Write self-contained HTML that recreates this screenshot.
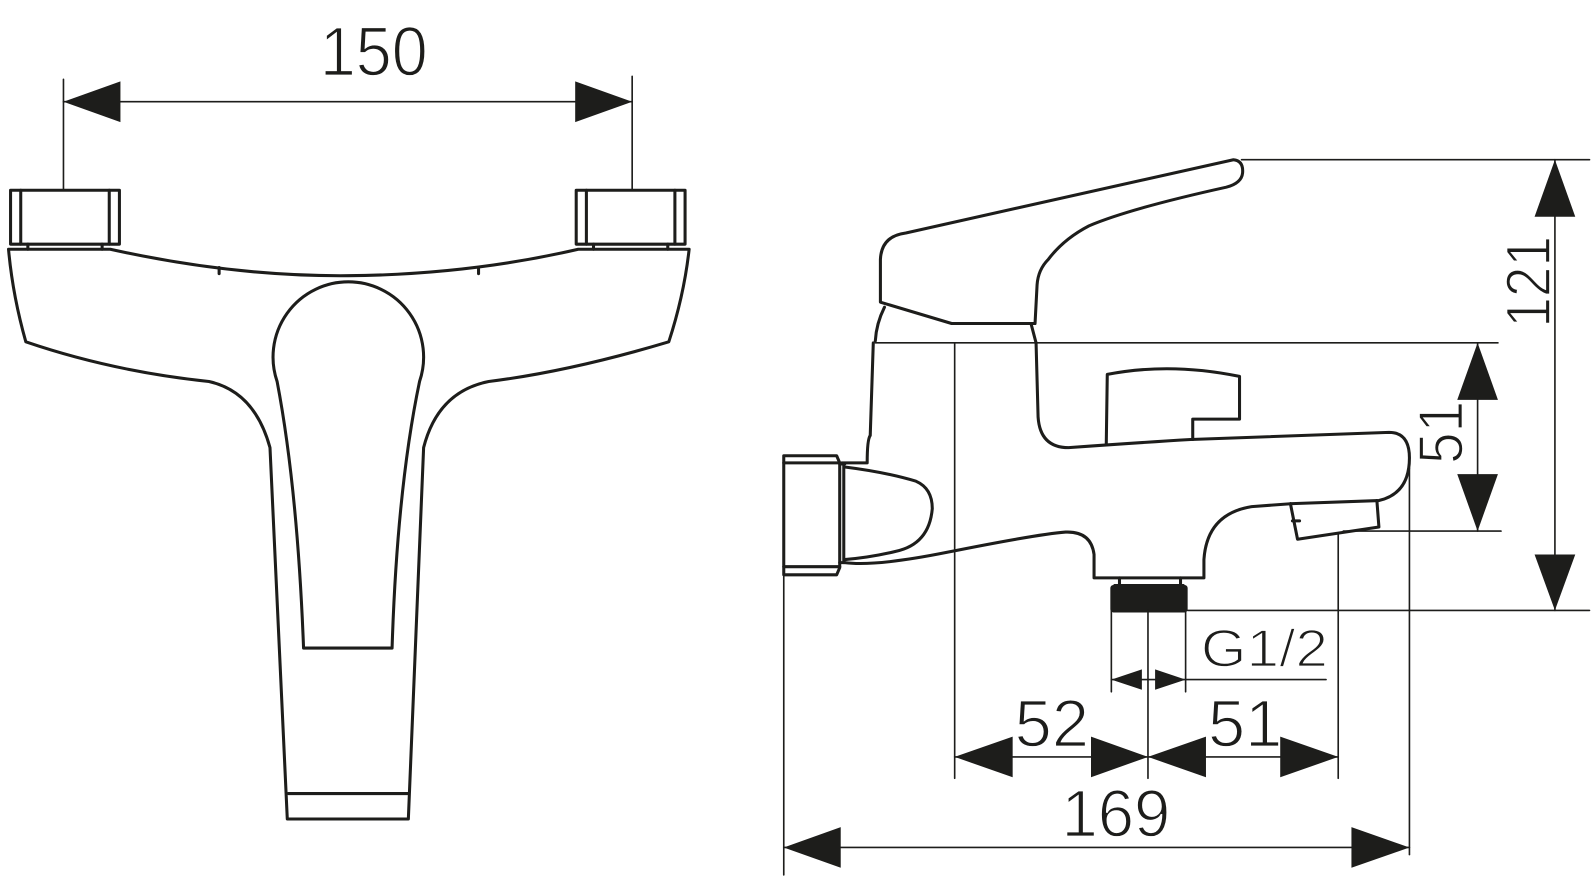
<!DOCTYPE html>
<html><head><meta charset="utf-8"><style>
html,body{margin:0;padding:0;background:#fff;width:1596px;height:879px;overflow:hidden}
svg{display:block}
text{font-family:"Liberation Sans",sans-serif;fill:#1d1d1b;stroke:#fff;stroke-width:1.6px}
</style></head><body>
<svg width="1596" height="879" viewBox="0 0 1568 864" xmlns="http://www.w3.org/2000/svg">
<g fill="none" stroke="#1d1d1b" stroke-linejoin="round" stroke-linecap="round">
<g stroke-width="1.6">
<line x1="62" y1="78" x2="62" y2="187"/>
<line x1="621" y1="75" x2="621" y2="187"/>
<line x1="62" y1="100" x2="621" y2="100"/>
</g>
<g fill="#1d1d1b" stroke="none">
<polygon points="62,100 118,80 118,120"/>
<polygon points="621,100 565,80 565,120"/>
</g>
<g stroke-width="3">
<rect x="10" y="187" width="107" height="53"/>
<line x1="20" y1="187" x2="20" y2="240"/><line x1="107" y1="187" x2="107" y2="240"/>
<rect x="566" y="187" width="107" height="53"/>
<line x1="576" y1="187" x2="576" y2="240"/><line x1="663" y1="187" x2="663" y2="240"/>
<line x1="27" y1="240" x2="27" y2="245"/><line x1="100" y1="240" x2="100" y2="245"/>
<line x1="583" y1="240" x2="583" y2="245"/><line x1="656" y1="240" x2="656" y2="245"/>
<path d="M8,245 L108,245 Q230,272 342,271 Q460,270 568,245 L677,245 Q672,290 657,336 Q560,365 480,375 Q430,385 416,440 L401,805 L282,805 L265,440 Q250,385 205,375 Q110,365 25,336 Q12,290 8,245 Z"/>
<line x1="215" y1="263" x2="215" y2="269"/><line x1="470" y1="263" x2="470" y2="269"/>
<line x1="283" y1="780" x2="401" y2="780"/>
<path d="M298,637 L385,637 Q390,480 412,375 A74,74 0 1 0 272,375 Q292,480 298,637 Z"/>

<path d="M865,297 L865,255 Q866,232 890,229 L1212,157 Q1222,158 1221,170 Q1220,180 1205,184 Q1110,205 1070,222 Q1045,235 1030,255 Q1020,265 1019,280 L1017,318 L935,318 Z"/>
<path d="M869,302 Q861,318 860,335"/>
<path d="M1013,318 L1018,337"/>
<path d="M858,337 L855,428 Q852,432 852,455 L827,455"/>
<path d="M1018,337 L1020,410 Q1022,440 1050,440 Q1120,435 1170,432 L1365,425 Q1385,425 1385,450 Q1385,485 1355,492 L1270,495 L1230,498 Q1186,505 1183,550 L1183,568 L1075,568 L1075,545 Q1072,522 1047,523 Q1020,525 930,543 Q860,557 830,553"/>
<path d="M1087,437 L1088,368 Q1150,356 1218,370 L1218,412 L1172,412 L1172,432"/>
<path d="M1268,495 L1275,530 L1355,518 L1353,492"/>
<path d="M1270,512 L1277,512"/>
<path d="M770,448 L822,448 L825,455 L825,558 L822,565 L770,565 Z"/>
<line x1="770" y1="455" x2="825" y2="455"/><line x1="770" y1="557" x2="825" y2="557"/>
<line x1="825" y1="456" x2="830" y2="456"/><line x1="825" y1="553" x2="830" y2="553"/>
<line x1="829" y1="456" x2="829" y2="553"/>
<path d="M830,459 Q870,464 900,473 Q916,480 916,500 Q913,535 880,542 Q855,548 830,550"/>
<path d="M1100,568 L1100,575 M1160,568 L1160,575"/>
</g>
<rect x="1091" y="575" width="76" height="27" rx="3" fill="#1d1d1b" stroke="none"/>
<line x1="1095" y1="575" x2="1163" y2="575" stroke="#1d1d1b" stroke-width="2"/>

<g stroke-width="1.6">
<line x1="1220" y1="157" x2="1562" y2="157"/>
<line x1="1167" y1="600" x2="1562" y2="600"/>
<line x1="1528" y1="157" x2="1528" y2="600"/>
<line x1="860" y1="337" x2="1472" y2="337"/>
<line x1="1320" y1="522" x2="1475" y2="522"/>
<line x1="1452" y1="337" x2="1452" y2="522"/>
<line x1="770" y1="565" x2="770" y2="860"/>
<line x1="938" y1="337" x2="938" y2="765"/>
<line x1="1128" y1="600" x2="1128" y2="765"/>
<line x1="1315" y1="525" x2="1315" y2="765"/>
<line x1="1385" y1="460" x2="1385" y2="840"/>
<line x1="1092" y1="600" x2="1092" y2="680"/>
<line x1="1165" y1="600" x2="1165" y2="680"/>
<line x1="1092" y1="668" x2="1303" y2="668"/>
<line x1="938" y1="744" x2="1315" y2="744"/>
<line x1="770" y1="833" x2="1385" y2="833"/>
</g>
<g fill="#1d1d1b" stroke="none">
<polygon points="1528,157 1508,213 1548,213"/>
<polygon points="1528,600 1508,545 1548,545"/>
<polygon points="1452,337 1432,393 1472,393"/>
<polygon points="1452,522 1432,466 1472,466"/>
<polygon points="938,744 995,724 995,764"/>
<polygon points="1128,744 1072,724 1072,764"/>
<polygon points="1128,744 1185,724 1185,764"/>
<polygon points="1315,744 1258,724 1258,764"/>
<polygon points="770,833 826,813 826,853"/>
<polygon points="1385,833 1328,813 1328,853"/>
<polygon points="1092,668 1122,658 1122,678"/>
<polygon points="1165,668 1135,658 1135,678"/>
</g>
</g>
<text x="314" y="74" font-size="68" textLength="106" lengthAdjust="spacingAndGlyphs">150</text>
<text x="997" y="734" font-size="66" textLength="73" lengthAdjust="spacingAndGlyphs">52</text>
<text x="1187" y="734" font-size="66" textLength="73" lengthAdjust="spacingAndGlyphs">51</text>
<text x="1043" y="822" font-size="66" textLength="107" lengthAdjust="spacingAndGlyphs">169</text>
<text transform="translate(1523,322) rotate(-90)" font-size="62" textLength="90" lengthAdjust="spacingAndGlyphs">121</text>
<text transform="translate(1437,456) rotate(-90)" font-size="62" textLength="62" lengthAdjust="spacingAndGlyphs">51</text>
<text x="1180" y="655" font-size="52" textLength="125" lengthAdjust="spacingAndGlyphs">G1/2</text>
</svg>
</body></html>
